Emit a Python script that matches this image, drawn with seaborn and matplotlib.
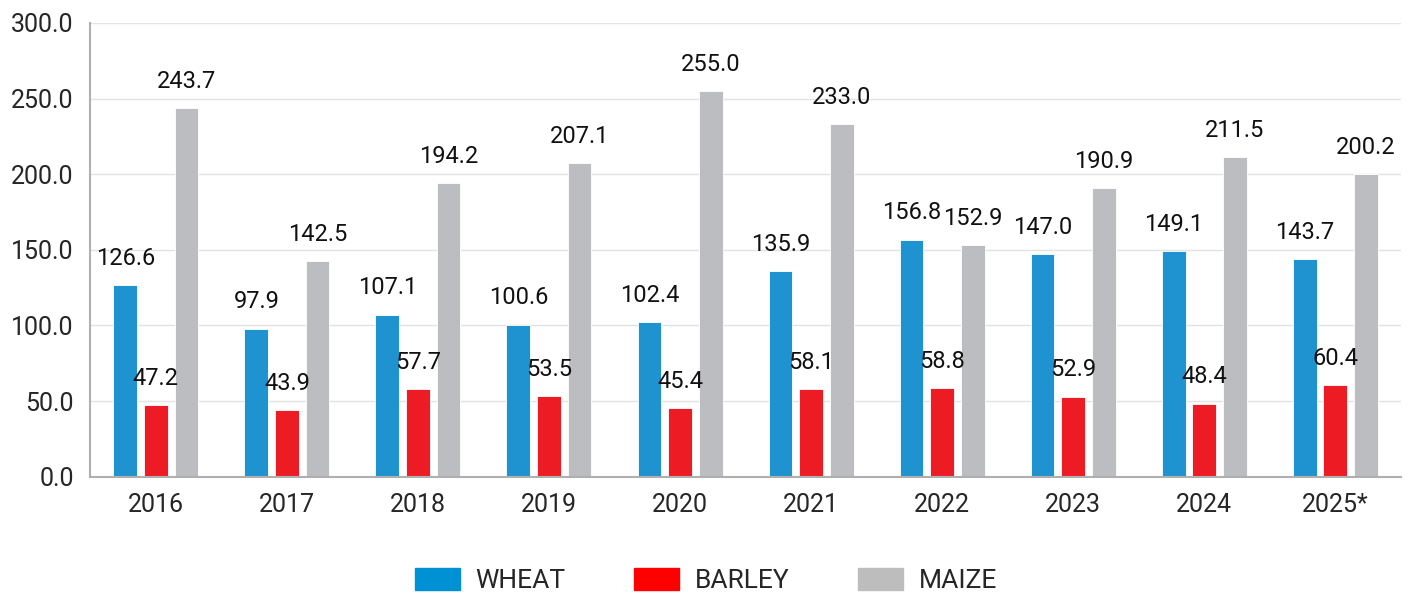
import seaborn as sns
import matplotlib.pyplot as plt
import pandas as pd

# datos
years = ["2016", "2017", "2018", "2019", "2020", "2021", "2022", "2023", "2024", "2025*"]
wheat = [126.6, 97.9, 107.1, 100.6, 102.4, 135.9, 156.8, 147.0, 149.1, 143.7]
barley = [47.2, 43.9, 57.7, 53.5, 45.4, 58.1, 58.8, 52.9, 48.4, 60.4]
maize = [243.7, 142.5, 194.2, 207.1, 255.0, 233.0, 152.9, 190.9, 211.5, 200.2]
crops = ["WHEAT", "BARLEY", "MAIZE"]
bar_colors = ["#1F93D0", "#ED1C24", "#BCBDC0"]
legend_colors = ["#0091D5", "#FF0000", "#BDBDBD"]

df = pd.DataFrame({
    "year": years * 3,
    "crop": ["WHEAT"] * len(years) + ["BARLEY"] * len(years) + ["MAIZE"] * len(years),
    "value": wheat + barley + maize,
})

sns.set_style("white")
plt.rcParams["font.family"] = ["Roboto", "DejaVu Sans"]

fig, ax = plt.subplots(figsize=(14.12, 6.02), dpi=100)
sns.barplot(data=df, x="year", y="value", hue="crop", hue_order=crops,
            palette=bar_colors, saturation=1, width=0.7, gap=0.22, ax=ax,
            edgecolor="white", linewidth=0.6, legend=False)

for cont in ax.containers:
    ax.bar_label(cont, fmt="%.1f", padding=11, fontsize=17, color="#111111")

ax.set_ylim(0, 300)
ax.set_xlim(-0.5, len(years) - 0.5)
ax.set_yticks(range(0, 301, 50))
ax.set_yticklabels([f"{v:.1f}" for v in range(0, 301, 50)])
ax.set_xlabel("")
ax.set_ylabel("")
ax.yaxis.grid(True, color="#E3E3E3", linewidth=1)
ax.set_axisbelow(True)
for side in ["top", "right"]:
    ax.spines[side].set_visible(False)
for side in ["left", "bottom"]:
    ax.spines[side].set_color("#AFAFAF")
    ax.spines[side].set_linewidth(1.5)
ax.tick_params(axis="y", length=8, color="#AFAFAF", width=1.2, labelsize=18, pad=4)
ax.tick_params(axis="x", length=0, labelsize=18, pad=12)

handles = [plt.Rectangle((0, 0), 1, 1, color=c) for c in legend_colors]
fig.legend(handles, crops, loc="lower center", bbox_to_anchor=(0.5, -0.025),
           ncol=3, frameon=False, fontsize=19, handlelength=1.7, handleheight=0.9,
           columnspacing=2.6, handletextpad=0.6)

fig.subplots_adjust(left=0.064, right=0.992, top=0.962, bottom=0.208)
fig.savefig("out.png", dpi=100)
plt.close(fig)
